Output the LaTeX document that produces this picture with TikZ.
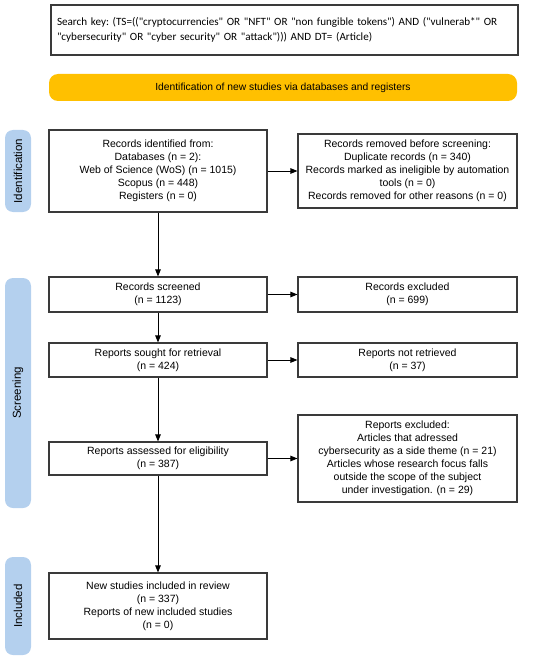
\documentclass[tikz,border=0pt]{standalone}
\usepackage{fontspec}
\setmainfont{Liberation Sans}
\newfontfamily\carl{Carlito}
\usetikzlibrary{arrows.meta}
\definecolor{sidebarblue}{HTML}{B4D0EE}
\definecolor{baryellow}{HTML}{FFC000}
\definecolor{boxline}{HTML}{3A3A3A}
\begin{document}
\begin{tikzpicture}[x=1pt,y=-1pt,
  flowbox/.style={draw=boxline,line width=1.1pt,fill=white,inner sep=0pt,align=center,
    font=\fontsize{10.5}{13}\selectfont},
  sidebar/.style={fill=sidebarblue,rounded corners=8pt,inner sep=0pt,minimum width=26pt,
    font=\fontsize{11.5}{12}\selectfont},
  conn/.style={draw=black,line width=0.9pt,-{Triangle[length=7pt,width=5.5pt]}}
]
\useasboundingbox (0,0) rectangle (550,660);
% search key
\node[draw=boxline,line width=1.1pt,minimum width=467pt,minimum height=50pt,inner xsep=6pt,
  text width=455pt,align=left,font=\carl\fontsize{11.1}{14.7}\selectfont] (search) at (284.5,30)
  {\frenchspacing Search key: (TS=((\char34 cryptocurrencies\char34{} OR \char34 NFT\char34{} OR \char34 non fungible tokens\char34) AND (\char34 vulnerab*\char34{} OR\\\char34 cybersecurity\char34{} OR \char34 cyber security\char34{} OR \char34 attack\char34))) AND DT= (Article)};
% yellow bar
\node[fill=baryellow,rounded corners=9pt,minimum width=468pt,minimum height=27pt,inner sep=0pt,
  font=\fontsize{10.3}{12}\selectfont] (bar) at (283,87.5)
  {Identification of new studies via databases and registers};
% sidebars
\node[sidebar,minimum height=82pt] (sid) at (18,171) {\rotatebox{90}{Identification}};
\node[sidebar,minimum height=230pt] (sscr) at (18,393) {\rotatebox{90}{Screening}};
\node[sidebar,minimum height=98pt] (sinc) at (18,606) {\rotatebox{90}{Included}};
% boxes
\node[flowbox,minimum width=218pt,minimum height=82pt] (ident) at (158,171)
  {Records identified from:\\Databases (n = 2):\\Web of Science (WoS) (n = 1015)\\Scopus (n = 448)\\Registers (n = 0)};
\node[flowbox,minimum width=219pt,minimum height=74pt] (removed) at (407.5,171)
  {Records removed before screening:\\Duplicate records (n = 340)\\Records marked as ineligible by automation\\tools (n = 0)\\Records removed for other reasons (n = 0)};
\node[flowbox,minimum width=218pt,minimum height=35pt] (screened) at (158,294.5)
  {Records screened\\(n = 1123)};
\node[flowbox,minimum width=219pt,minimum height=35pt] (excluded) at (407.5,294.5)
  {Records excluded\\(n = 699)};
\node[flowbox,minimum width=218pt,minimum height=34pt] (sought) at (158,360)
  {Reports sought for retrieval\\(n = 424)};
\node[flowbox,minimum width=219pt,minimum height=34pt] (notret) at (407.5,360)
  {Reports not retrieved\\(n = 37)};
\node[flowbox,minimum width=218pt,minimum height=33pt] (assessed) at (158,458.5)
  {Reports assessed for eligibility\\(n = 387)};
\node[flowbox,minimum width=219pt,minimum height=87pt] (repexcl) at (407.5,458.5)
  {Reports excluded:\\Articles that adressed\\cybersecurity as a side theme (n = 21)\\Articles whose research focus falls\\outside the scope of the subject\\under investigation. (n = 29)};
\node[flowbox,minimum width=218pt,minimum height=66pt] (newst) at (158,606)
  {New studies included in review\\(n = 337)\\Reports of new included studies\\(n = 0)};
% connectors
\draw[conn] (ident) -- (removed);
\draw[conn] (screened) -- (excluded);
\draw[conn] (sought) -- (notret);
\draw[conn] (assessed) -- (repexcl);
\draw[conn] (ident) -- (screened);
\draw[conn] (screened) -- (sought);
\draw[conn] (sought) -- (assessed);
\draw[conn] (assessed) -- (newst);
\end{tikzpicture}
\end{document}
